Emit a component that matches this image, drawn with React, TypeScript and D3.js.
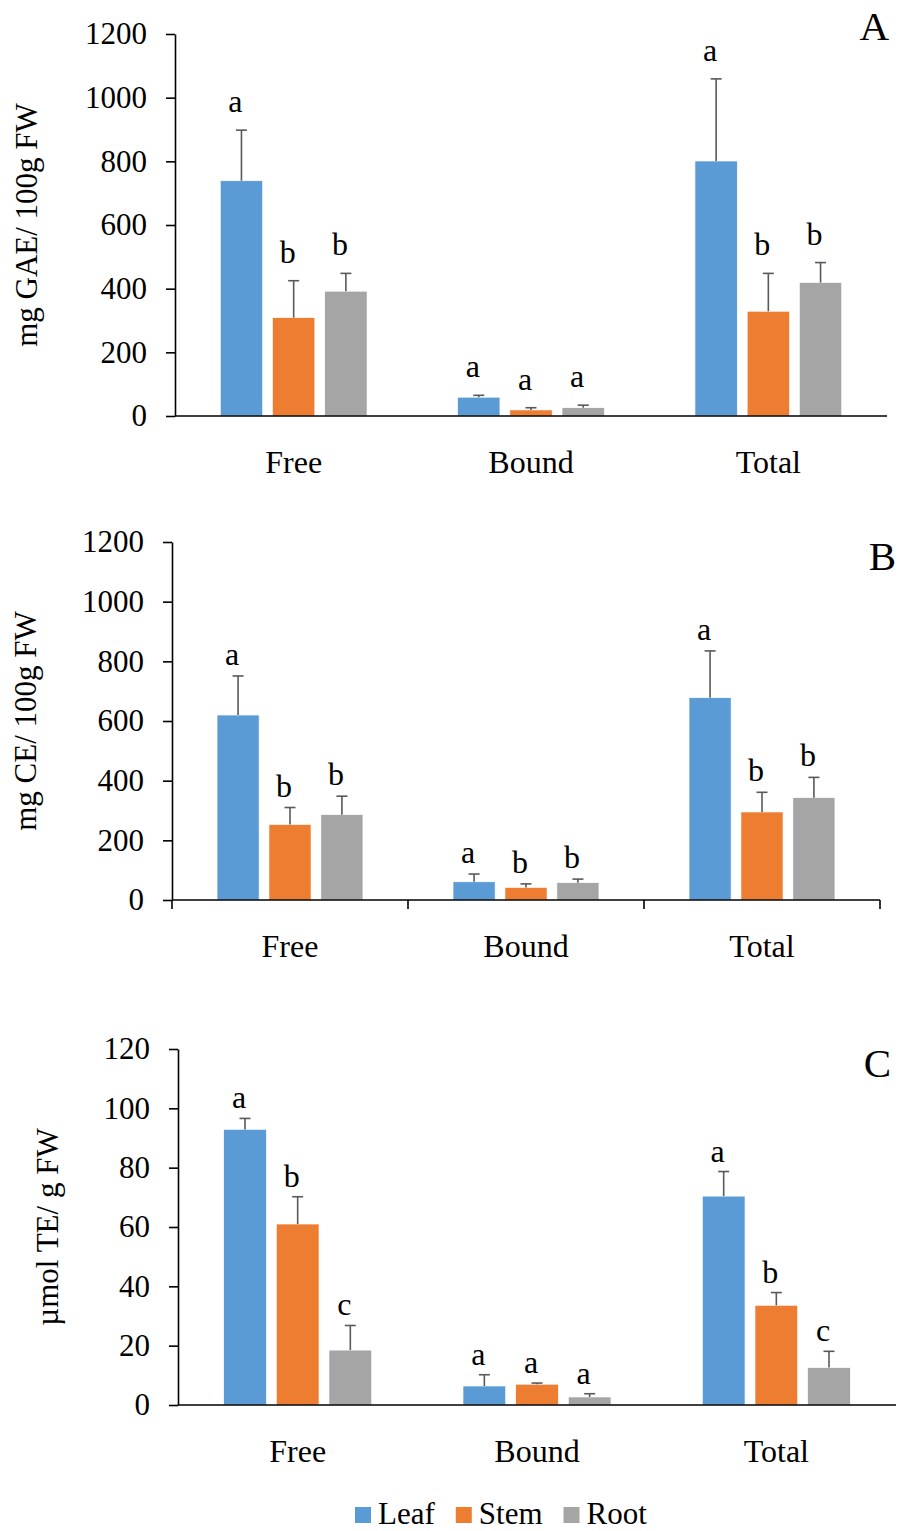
import React, { useEffect, useRef } from 'react';
import * as d3 from 'd3';

const categories = ['Free', 'Bound', 'Total'];
const seriesNames = ['Leaf', 'Stem', 'Root'];

// A: total phenolics (mg GAE/100g FW)
const phenolLeaf = [739, 59, 801];
const phenolLeafSd = [159, 6, 258];
const phenolStem = [309, 19, 329];
const phenolStemSd = [116, 7, 119];
const phenolRoot = [392, 26, 419];
const phenolRootSd = [56, 8, 63];
const phenolLetters = [
  ['a', 'a', 'a'],
  ['b', 'a', 'b'],
  ['b', 'a', 'b'],
];

// B: flavonoids (mg CE/100g FW)
const flavLeaf = [620, 61, 678];
const flavLeafSd = [131, 26, 157];
const flavStem = [253, 42, 295];
const flavStemSd = [57, 12, 66];
const flavRoot = [286, 58, 343];
const flavRootSd = [62, 12, 68];
const flavLetters = [
  ['a', 'a', 'a'],
  ['b', 'b', 'b'],
  ['b', 'b', 'b'],
];

// C: antioxidant capacity (µmol TE/g FW)
const antiLeaf = [92.9, 6.4, 70.4];
const antiLeafSd = [3.7, 3.8, 8.3];
const antiStem = [61.0, 7.0, 33.6];
const antiStemSd = [9.2, 0.4, 4.3];
const antiRoot = [18.5, 2.7, 12.6];
const antiRootSd = [8.3, 1.1, 5.5];
const antiLetters = [
  ['a', 'a', 'a'],
  ['b', 'a', 'b'],
  ['c', 'a', 'c'],
];

const yTicksAB = [0, 200, 400, 600, 800, 1000, 1200];
const yTicksC = [0, 20, 40, 60, 80, 100, 120];

const colors = ['#5B9BD5', '#ED7D31', '#A5A5A5'];
const FONT = '"Times New Roman", "Liberation Serif", serif';

interface Panel {
  tag: string;
  yLabel: string;
  values: number[][];
  sds: number[][];
  letters: string[][];
  ticks: number[];
  left: number;
  right: number;
  top: number;
  bottom: number;
  labelX: number;
  tagX: number;
  tagY: number;
  letterGap: number;
  catTicks: boolean;
}

const panels: Panel[] = [
  {
    tag: 'A', yLabel: 'mg GAE/ 100g FW',
    values: [phenolLeaf, phenolStem, phenolRoot],
    sds: [phenolLeafSd, phenolStemSd, phenolRootSd],
    letters: phenolLetters, ticks: yTicksAB,
    left: 175, right: 887, top: 34, bottom: 416,
    labelX: 37, tagX: 889, tagY: 40, letterGap: 18, catTicks: false,
  },
  {
    tag: 'B', yLabel: 'mg CE/ 100g FW',
    values: [flavLeaf, flavStem, flavRoot],
    sds: [flavLeafSd, flavStemSd, flavRootSd],
    letters: flavLetters, ticks: yTicksAB,
    left: 172, right: 880, top: 542, bottom: 900,
    labelX: 36, tagX: 896, tagY: 570, letterGap: 11, catTicks: true,
  },
  {
    tag: 'C', yLabel: 'µmol TE/ g FW',
    values: [antiLeaf, antiStem, antiRoot],
    sds: [antiLeafSd, antiStemSd, antiRootSd],
    letters: antiLetters, ticks: yTicksC,
    left: 178, right: 896, top: 1049, bottom: 1405,
    labelX: 58, tagX: 891, tagY: 1077, letterGap: 10, catTicks: false,
  },
];

export default function App() {
  const svgRef = useRef<SVGSVGElement | null>(null);

  useEffect(() => {
    if (!svgRef.current) return;
    const svg = d3.select(svgRef.current);
    svg.selectAll('*').remove();

    panels.forEach((p) => {
      const g = svg.append('g');
      const maxY = p.ticks[p.ticks.length - 1];

      const x = d3.scaleBand<string>().domain(categories).range([p.left, p.right])
        .paddingInner(0.34).paddingOuter(0.17);
      const xs = d3.scaleBand<string>().domain(seriesNames).range([0, x.bandwidth()])
        .paddingInner(0.19).paddingOuter(0.095);
      const y = d3.scaleLinear().domain([0, maxY]).range([p.bottom, p.top]);

      // bars, error bars, significance letters
      seriesNames.forEach((s, si) => {
        categories.forEach((c, ci) => {
          const v = p.values[si][ci];
          const top = v + p.sds[si][ci];
          const bx = (x(c) as number) + (xs(s) as number);
          const cx = bx + xs.bandwidth() / 2;
          g.append('rect')
            .attr('x', bx)
            .attr('y', y(v))
            .attr('width', xs.bandwidth())
            .attr('height', y(0) - y(v))
            .attr('fill', colors[si])
            .attr('stroke', '#fff')
            .attr('stroke-width', 0.6);
          g.append('line')
            .attr('x1', cx).attr('x2', cx)
            .attr('y1', y(v)).attr('y2', y(top))
            .attr('stroke', '#595959').attr('stroke-width', 1.6);
          g.append('line')
            .attr('x1', cx - 5.5).attr('x2', cx + 5.5)
            .attr('y1', y(top)).attr('y2', y(top))
            .attr('stroke', '#595959').attr('stroke-width', 1.6);
          g.append('text')
            .attr('x', cx - 6)
            .attr('y', y(top) - p.letterGap)
            .attr('text-anchor', 'middle')
            .attr('font-family', FONT)
            .attr('font-size', 32)
            .attr('fill', '#000')
            .text(p.letters[si][ci]);
        });
      });

      // y axis
      const yAxis = g.append('g')
        .attr('transform', `translate(${p.left},0)`)
        .call(
          d3.axisLeft(y).tickValues(p.ticks).tickFormat(d3.format('d'))
            .tickSize(9).tickSizeOuter(0).tickPadding(19),
        );
      yAxis.select('.domain').attr('stroke', '#000').attr('stroke-width', 1.6);
      yAxis.selectAll('.tick line').attr('stroke', '#000').attr('stroke-width', 1.6);
      yAxis.selectAll('.tick text')
        .attr('font-family', FONT)
        .attr('font-size', 31)
        .attr('fill', '#000');

      // x axis
      g.append('line')
        .attr('x1', p.left).attr('x2', p.right)
        .attr('y1', p.bottom).attr('y2', p.bottom)
        .attr('stroke', '#000').attr('stroke-width', 1.6);
      if (p.catTicks) {
        d3.range(categories.length + 1).forEach((i) => {
          const tx = p.left + i * x.step();
          g.append('line')
            .attr('x1', tx).attr('x2', tx)
            .attr('y1', p.bottom).attr('y2', p.bottom + 9)
            .attr('stroke', '#000').attr('stroke-width', 1.6);
        });
      }
      categories.forEach((c) => {
        g.append('text')
          .attr('x', (x(c) as number) + x.bandwidth() / 2)
          .attr('y', p.bottom + 57)
          .attr('text-anchor', 'middle')
          .attr('font-family', FONT)
          .attr('font-size', 32)
          .attr('fill', '#000')
          .text(c);
      });

      // y label
      g.append('text')
        .attr('transform', `translate(${p.labelX},${(p.top + p.bottom) / 2}) rotate(-90)`)
        .attr('text-anchor', 'middle')
        .attr('font-family', FONT)
        .attr('font-size', 31)
        .attr('fill', '#000')
        .text(p.yLabel);

      // panel tag
      g.append('text')
        .attr('x', p.tagX)
        .attr('y', p.tagY)
        .attr('text-anchor', 'end')
        .attr('font-family', FONT)
        .attr('font-size', 41)
        .attr('fill', '#000')
        .text(p.tag);
    });

    // legend
    const legend = svg.append('g').attr('transform', 'translate(355,1507)');
    let lx = 0;
    seriesNames.forEach((s, i) => {
      legend.append('rect')
        .attr('x', lx).attr('y', 0)
        .attr('width', 16).attr('height', 16)
        .attr('fill', colors[i]);
      const t = legend.append('text')
        .attr('x', lx + 23)
        .attr('y', 17)
        .attr('font-family', FONT)
        .attr('font-size', 31)
        .attr('fill', '#000')
        .text(s);
      const w = (t.node() as SVGTextElement).getComputedTextLength();
      lx += 23 + w + 21;
    });
  }, []);

  return (
    <svg
      ref={svgRef}
      width={898}
      height={1531}
      style={{ position: 'absolute', left: 0, top: 0, background: '#fff' }}
    />
  );
}
